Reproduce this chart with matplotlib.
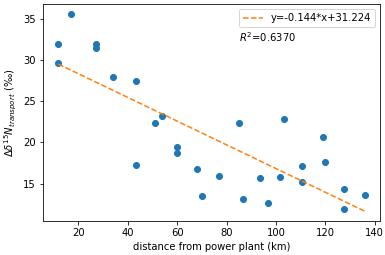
import matplotlib
matplotlib.use("Agg")
import matplotlib.pyplot as plt
import numpy as np

# distance from power plant (km) and delta values
distance = [11.9, 11.9, 17.2, 27.0, 27.0, 33.9, 43.2, 43.2, 50.9, 53.7,
            60.0, 60.0, 68.0, 70.0, 77.0, 85.0, 86.7, 93.7, 96.8, 101.7,
            103.3, 110.7, 110.7, 119.0, 120.0, 127.7, 127.7, 135.9]
delta = [32.0, 29.7, 35.6, 31.9, 31.5, 27.9, 27.5, 17.2, 22.3, 23.2,
         19.4, 18.7, 16.8, 13.5, 15.9, 22.4, 13.1, 15.7, 12.7, 15.8,
         22.8, 17.1, 15.2, 20.7, 17.6, 14.4, 11.9, 13.6]

slope = -0.144
intercept = 31.224
r2 = 0.6370

fig = plt.figure(figsize=(385/72, 255/72), dpi=72)
ax = fig.add_axes([0.1117, 0.1333, 0.8753, 0.8507])

ax.scatter(distance, delta, color='C0')
x_fit = np.array([min(distance), max(distance)])
ax.plot(x_fit, slope*x_fit + intercept, '--', color='C1',
        label='y=%.3f*x+%.3f' % (slope, intercept))
ax.text(85, 32.2, '$R^2$=%.4f' % r2)

ax.set_xlabel('distance from power plant (km)')
ax.set_ylabel(r'$\Delta\delta^{15}N_{transport}$ (‰)')
ax.legend(loc='upper right')

fig.savefig('out.png', dpi=72)
